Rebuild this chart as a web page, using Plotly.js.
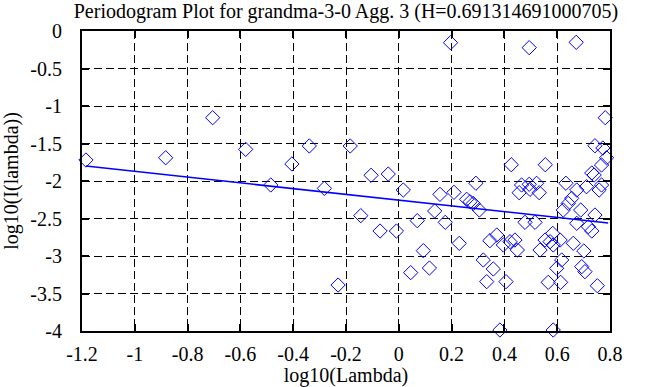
<!DOCTYPE html>
<html>
<head>
<meta charset="utf-8">
<script src="https://cdn.plot.ly/plotly-3.0.1.min.js"></script>
<style>html,body{margin:0;padding:0;background:#fff;}#chart{width:658px;height:387px;}</style>
</head>
<body>
<div id="chart"></div>
<script>
// Periodogram points: log10(lambda), log10(I(lambda))
const pointsX = [
  -1.185, -0.883, -0.705, -0.58,
  0.196, -0.339, -0.405, -0.184, -0.105, -0.04,
  0.494, 0.672, 0.782, 0.743, 0.773, 0.787, 0.768, 0.731, 0.74, 0.426, 0.555,
  -0.485, -0.282, 0.017, -0.144, -0.071, -0.009, -0.23, 0.07, 0.136, 0.176, 0.156, 0.209, 0.093, 0.045, 0.116,
  0.292, 0.257, 0.27, 0.282, 0.305, 0.229, 0.371, 0.345, 0.396, 0.421, 0.44, 0.449, 0.32, 0.358, 0.333, 0.406,
  0.383, 0.585, 0.465, 0.494, 0.522, 0.532, 0.456, 0.497, 0.478, 0.516, 0.633, 0.674, 0.655, 0.642, 0.623,
  0.689, 0.743, 0.674, 0.718, 0.731, 0.768, 0.759, 0.711, 0.583, 0.554, 0.535, 0.585, 0.611, 0.573, 0.661,
  0.701, 0.617, 0.598, 0.693, 0.705, 0.566, 0.613, 0.752
];
const pointsY = [
  -1.72, -1.69, -1.156, -1.578,
  -0.156, -1.533, -1.773, -1.533, -1.924, -1.907,
  -0.222, -0.151, -1.156, -1.53, -1.56, -1.69, -1.787, -1.893, -1.92, -1.783, -1.783,
  -2.053, -2.098, -2.12, -2.462, -2.667, -2.667, -3.387, -2.529, -2.4, -2.551, -2.178, -2.151, -2.929, -3.222, -3.16,
  -2.03, -2.244, -2.276, -2.3, -2.387, -2.831, -2.72, -2.796, -2.853, -2.809, -2.787, -2.92, -3.053, -3.173, -3.342, -3.342,
  -3.987, -3.987, -2.053, -2.044, -2.031, -2.156, -2.156, -2.111, -2.551, -2.551, -2.03, -2.12, -2.231, -2.298, -2.387,
  -2.387, -2.453, -2.564, -2.609, -2.667, -2.053, -2.12, -2.076, -2.698, -2.787, -2.92, -2.853, -2.787, -2.809, -2.831,
  -2.933, -3.053, -3.164, -3.142, -3.209, -3.351, -3.351, -3.396
];
// Fitted regression line endpoints
const fitX = [-1.185, 0.793];
const fitY = [-1.80, -2.56];

const xTickVals = [-1.2, -1, -0.8, -0.6, -0.4, -0.2, 0, 0.2, 0.4, 0.6, 0.8];
const xTickText = ["-1.2", "-1", "-0.8", "-0.6", "-0.4", "-0.2", "0", "0.2", "0.4", "0.6", "0.8"];
const yTickVals = [0, -0.5, -1, -1.5, -2, -2.5, -3, -3.5, -4];
const yTickText = ["0", "-0.5", "-1", "-1.5", "-2", "-2.5", "-3", "-3.5", "-4"];

const font = "Liberation Serif, Times New Roman, serif";

const traces = [
  {
    x: pointsX, y: pointsY, type: 'scatter', mode: 'markers',
    marker: {symbol: 'diamond-open', size: 11, color: '#0000ff', line: {width: 1, color: '#0000ff'}},
    hoverinfo: 'skip', cliponaxis: false
  },
  {
    x: fitX, y: fitY, type: 'scatter', mode: 'lines',
    line: {color: '#0000ff', width: 1.6},
    hoverinfo: 'skip'
  }
];

const axisCommon = {
  showline: true, linecolor: '#000', linewidth: 2, mirror: 'ticks',
  ticks: 'inside', ticklen: 7, tickwidth: 2, tickcolor: '#000',
  showgrid: true, gridcolor: '#000', gridwidth: 1, griddash: '8px,4px',
  zeroline: false, tickmode: 'array',
  tickfont: {family: font, size: 20, color: '#000'}
};

const layout = {
  width: 658, height: 387,
  margin: {l: 82, r: 48, t: 31, b: 56},
  paper_bgcolor: '#fff', plot_bgcolor: '#fff',
  showlegend: false,
  font: {family: font, size: 20, color: '#000'},
  title: {text: 'Periodogram Plot for grandma-3-0 Agg. 3 (H=0.691314691000705)',
          font: {family: font, size: 20, color: '#000'},
          xref: 'paper', x: 0.5, xanchor: 'center', yref: 'container', y: 0.972, yanchor: 'middle'},
  xaxis: Object.assign({}, axisCommon, {
    range: [-1.2, 0.8], tickvals: xTickVals, ticktext: xTickText,
    ticklabelstandoff: 4,
    title: {text: 'log10(Lambda)', font: {family: font, size: 20, color: '#000'}, standoff: 6}
  }),
  yaxis: Object.assign({}, axisCommon, {
    range: [-4, 0], tickvals: yTickVals, ticktext: yTickText,
    ticklabelstandoff: 14,
    title: {text: 'log10(I(lambda))', font: {family: font, size: 20, color: '#000'}, standoff: 6}
  })
};

Plotly.newPlot('chart', traces, layout, {staticPlot: true, displayModeBar: false});
</script>
</body>
</html>
